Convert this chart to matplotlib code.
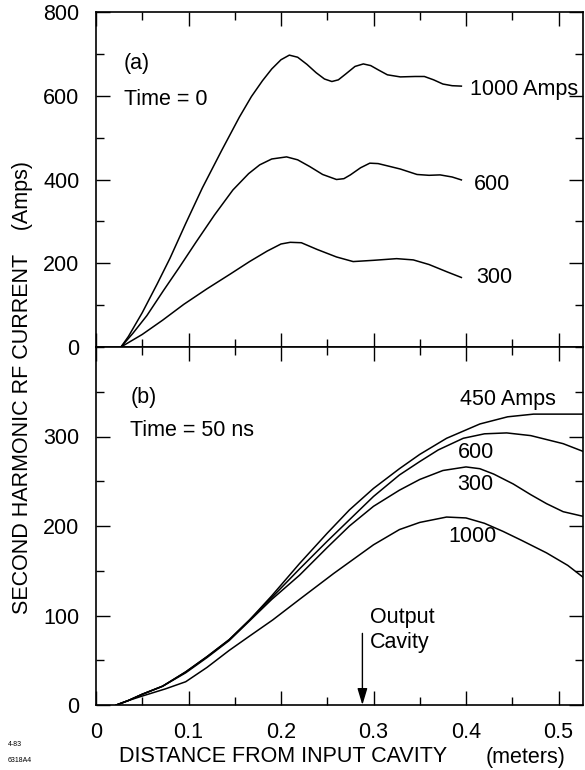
import matplotlib
matplotlib.use("Agg")
import matplotlib.pyplot as plt
from matplotlib.ticker import MultipleLocator

plt.rcParams['font.family'] = ['Liberation Sans', 'DejaVu Sans']

FS = 15.5

# ---- Panel (a): Time = 0 ----
a_1000_x = [0.027, 0.035, 0.05, 0.066, 0.08, 0.097, 0.115, 0.136, 0.155, 0.168, 0.18, 0.19,
            0.2, 0.209, 0.218, 0.228, 0.238, 0.247, 0.255, 0.262, 0.27, 0.28, 0.289, 0.297,
            0.305, 0.315, 0.329, 0.345, 0.355, 0.365, 0.375, 0.385, 0.395]
a_1000_y = [0, 25, 82, 150, 212, 295, 380, 470, 549, 598, 636, 664,
            686, 697, 692, 675, 655, 640, 634, 638, 652, 670, 676, 672,
            662, 650, 645, 646, 646, 638, 628, 624, 623]

a_600_x = [0.027, 0.04, 0.055, 0.073, 0.09, 0.108, 0.128, 0.148, 0.165, 0.177, 0.19, 0.206,
           0.218, 0.231, 0.245, 0.26, 0.268, 0.275, 0.286, 0.296, 0.305, 0.318, 0.329, 0.347,
           0.36, 0.372, 0.385, 0.395]
a_600_y = [0, 33, 75, 135, 190, 250, 315, 375, 414, 435, 449, 454,
           447, 431, 412, 400, 402, 411, 428, 439, 438, 431, 425, 412,
           410, 411, 406, 399]

a_300_x = [0.027, 0.05, 0.072, 0.095, 0.12, 0.145, 0.166, 0.185, 0.2, 0.21, 0.222, 0.239,
           0.26, 0.278, 0.3, 0.325, 0.343, 0.36, 0.38, 0.395]
a_300_y = [0, 30, 64, 102, 139, 174, 204, 229, 246, 250, 249, 233,
           215, 204, 207, 211, 208, 197, 179, 166]

# ---- Panel (b): Time = 50 ns ----
b_450_x = [0.022, 0.035, 0.05, 0.072, 0.097, 0.12, 0.144, 0.166, 0.19, 0.22, 0.25, 0.274,
           0.30, 0.328, 0.35, 0.379, 0.415, 0.445, 0.473, 0.53]
b_450_y = [0, 5, 12, 21, 37, 54, 73, 95, 122, 158, 192, 218,
           242, 264, 280, 298, 314, 322, 325, 325]

b_600_x = [0.022, 0.035, 0.05, 0.072, 0.097, 0.12, 0.144, 0.166, 0.19, 0.22, 0.25, 0.274,
           0.30, 0.328, 0.35, 0.37, 0.397, 0.42, 0.444, 0.47, 0.505, 0.53]
b_600_y = [0, 5, 12, 21, 37, 54, 73, 95, 120, 152, 183, 207,
           233, 257, 272, 285, 298, 303, 304, 301, 292, 282]

b_300_x = [0.022, 0.035, 0.05, 0.072, 0.097, 0.12, 0.144, 0.166, 0.19, 0.22, 0.25, 0.274,
           0.30, 0.328, 0.35, 0.375, 0.40, 0.415, 0.43, 0.451, 0.47, 0.487, 0.505, 0.53]
b_300_y = [0, 5, 12, 21, 36, 53, 72, 94, 118, 145, 176, 200,
           222, 240, 252, 262, 266, 264, 258, 247, 235, 225, 216, 210]

b_1000_x = [0.022, 0.035, 0.05, 0.075, 0.097, 0.12, 0.144, 0.166, 0.191, 0.22, 0.257, 0.30,
            0.328, 0.35, 0.379, 0.40, 0.42, 0.44, 0.46, 0.487, 0.51, 0.53]
b_1000_y = [0, 5, 10, 18, 26, 42, 61, 77, 95, 118, 147, 179,
            196, 204, 210, 209, 203, 194, 184, 170, 156, 140]

output_cavity_x = 0.288

W, H = 585, 770
fig = plt.figure(figsize=(W / 100, H / 100), dpi=100)
left = 96 / W
right = 583 / W
axa = fig.add_axes([left, 1 - 347 / H, right - left, (347 - 12) / H])
axb = fig.add_axes([left, 1 - 705 / H, right - left, (705 - 347) / H])

lw = 1.1
for x, y in [(a_1000_x, a_1000_y), (a_600_x, a_600_y), (a_300_x, a_300_y)]:
    axa.plot(x, y, color='black', lw=lw, solid_joinstyle='round')
for x, y in [(b_450_x, b_450_y), (b_600_x, b_600_y), (b_300_x, b_300_y), (b_1000_x, b_1000_y)]:
    axb.plot(x, y, color='black', lw=lw, solid_joinstyle='round')

xmax = (583 - 96) / 925
axa.set_xlim(0, xmax)
axb.set_xlim(0, xmax)
axa.set_ylim(0, 800)
axb.set_ylim(0, 400)

for ax, ymaj, ymin in [(axa, 200, 100), (axb, 100, 50)]:
    ax.xaxis.set_major_locator(MultipleLocator(0.1))
    ax.xaxis.set_minor_locator(MultipleLocator(0.05))
    ax.yaxis.set_major_locator(MultipleLocator(ymaj))
    ax.yaxis.set_minor_locator(MultipleLocator(ymin))
    ax.tick_params(which='both', direction='in', top=True, bottom=True, left=True, right=True,
                   width=1.0, labelsize=FS)
    ax.tick_params(which='major', length=10)
    ax.tick_params(which='minor', length=6)
    ax.tick_params(axis='y', pad=12)
    ax.tick_params(axis='x', pad=12)
    for s in ax.spines.values():
        s.set_linewidth(1.2)

axa.tick_params(labelbottom=False)
axa.set_yticks([0, 200, 400, 600, 800])
axb.set_yticks([0, 100, 200, 300])
axb.set_xticks([0, 0.1, 0.2, 0.3, 0.4, 0.5])
axb.set_xticklabels(['0', '0.1', '0.2', '0.3', '0.4', '0.5'])

# annotations panel (a)
axa.text(0.030, 678, '(a)', fontsize=FS, va='center', ha='left')
axa.text(0.030, 590, 'Time = 0', fontsize=FS, va='center', ha='left')
axa.text(0.404, 614, '1000 Amps', fontsize=FS, va='center', ha='left')
axa.text(0.408, 387, '600', fontsize=FS, va='center', ha='left')
axa.text(0.411, 167, '300', fontsize=FS, va='center', ha='left')

# annotations panel (b)
axb.text(0.037, 344, '(b)', fontsize=FS, va='center', ha='left')
axb.text(0.037, 307, 'Time = 50 ns', fontsize=FS, va='center', ha='left')
axb.text(0.394, 341, '450 Amps', fontsize=FS, va='center', ha='left')
axb.text(0.391, 282, '600', fontsize=FS, va='center', ha='left')
axb.text(0.391, 246, '300', fontsize=FS, va='center', ha='left')
axb.text(0.381, 188, '1000', fontsize=FS, va='center', ha='left')
axb.text(0.296, 98, 'Output', fontsize=FS, va='center', ha='left')
axb.text(0.296, 70, 'Cavity', fontsize=FS, va='center', ha='left')
axb.annotate('', xy=(output_cavity_x, 0), xytext=(output_cavity_x, 80),
             arrowprops=dict(arrowstyle='-|>,head_length=1.0,head_width=0.3',
                             color='black', lw=1.0, shrinkA=0, shrinkB=0))

# axis labels
fig.text(23 / W, 1 - 388 / H, 'SECOND HARMONIC RF CURRENT    (Amps)', rotation=90,
         fontsize=FS, ha='center', va='center')
fig.text(119 / W, 1 - 757 / H, 'DISTANCE FROM INPUT CAVITY', fontsize=FS,
         ha='left', va='center')
fig.text(486 / W, 1 - 757 / H, '(meters)', fontsize=FS, ha='left', va='center')

fig.text(8 / W, 1 - 745 / H, '4-83', fontsize=5, ha='left', va='center')
fig.text(8 / W, 1 - 760 / H, '6318A4', fontsize=5, ha='left', va='center')

fig.savefig('out.png', dpi=100)
